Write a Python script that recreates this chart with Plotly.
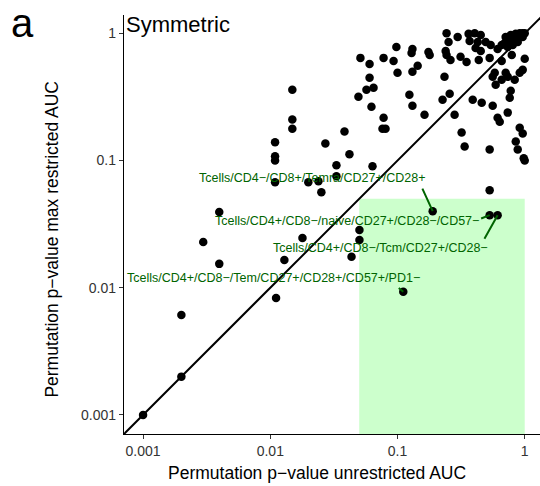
import math
import plotly.graph_objects as go

# ---- data: permutation p-values (unrestricted AUC, max restricted AUC) ----
p_unrestricted = [
    0.243, 0.297, 0.252, 0.362, 0.404, 0.451, 0.369, 0.427, 0.493, 0.54,
    0.411, 0.451, 0.612, 0.708, 0.776, 0.85, 0.913, 0.96, 1.0, 0.696,
    0.762, 0.819, 0.897, 0.964, 0.735, 0.805, 0.659, 0.881, 0.098, 0.131,
    0.129, 0.175, 0.179, 0.239, 0.243, 0.261, 0.313, 0.349, 0.435, 0.53,
    0.659, 0.791, 1.0, 0.0511, 0.0603, 0.0777, 0.0931, 0.1, 0.131, 0.144,
    0.234, 0.0603, 0.0149, 0.057, 0.0648, 0.0493, 0.0624, 0.124, 0.131, 0.163,
    0.226, 0.257, 0.281, 0.39, 0.459, 0.56, 0.56, 0.591, 0.659, 0.735,
    0.834, 0.913, 0.964, 0.581, 0.708, 0.776, 0.762, 0.612, 0.636, 0.735,
    0.913, 0.964, 0.85, 0.881, 0.982, 0.53, 0.319, 0.337, 0.53, 1.0,
    0.0777, 0.0762, 0.0805, 0.0149, 0.0149, 0.0383, 0.0109, 0.0109, 0.0109, 0.0271,
    0.0419, 0.0331, 0.0636, 0.0252, 0.0109, 0.0199, 0.0239, 0.0331, 0.00397, 0.0502,
    0.0502, 0.0179, 0.00297, 0.0129, 0.00397, 0.0435, 0.0111, 0.002, 0.002, 0.001,
]
p_max_restricted = [
    1.0, 0.935, 0.855, 0.99, 1.0, 0.97, 0.87, 0.855, 0.855, 0.81,
    0.767, 0.727, 0.753, 0.935, 0.97, 0.99, 1.0, 1.0, 1.0, 0.84,
    0.87, 0.887, 0.92, 0.935, 0.782, 0.81, 0.81, 0.855, 0.782, 0.753,
    0.701, 0.714, 0.676, 0.727, 0.676, 0.618, 0.653, 0.596, 0.618, 0.641,
    0.607, 0.676, 0.63, 0.641, 0.575, 0.641, 0.607, 0.489, 0.498, 0.555,
    0.455, 0.447, 0.36, 0.36, 0.373, 0.317, 0.265, 0.329, 0.27, 0.229,
    0.301, 0.335, 0.229, 0.301, 0.285, 0.27, 0.455, 0.394, 0.431, 0.455,
    0.431, 0.489, 0.516, 0.489, 0.489, 0.353, 0.311, 0.217, 0.202, 0.238,
    0.181, 0.163, 0.141, 0.122, 0.104, 0.122, 0.166, 0.129, 0.0583, 0.1,
    0.217, 0.178, 0.178, 0.21, 0.178, 0.169, 0.139, 0.108, 0.1, 0.136,
    0.112, 0.0916, 0.09, 0.0562, 0.0675, 0.0675, 0.0687, 0.0752, 0.0393, 0.0284,
    0.0237, 0.0246, 0.0229, 0.0165, 0.0154, 0.0175, 0.0083, 0.0061, 0.002, 0.001,
]

# labelled populations
label_names = [
    "Tcells/CD4\u2212/CD8+/Temra/CD27+/CD28+",
    "Tcells/CD4+/CD8\u2212/naive/CD27+/CD28\u2212/CD57\u2212",
    "Tcells/CD4+/CD8\u2212/Tcm/CD27+/CD28\u2212",
    "Tcells/CD4+/CD8\u2212/Tem/CD27+/CD28+/CD57+/PD1\u2212",
]
label_x = [0.189, 0.53, 0.612, 0.111]
label_y = [0.04, 0.0372, 0.0372, 0.0093]

tick_vals = [0.001, 0.01, 0.1, 1]
tick_text = ["0.001", "0.01", "0.1", "1"]

# ---- styling / layout (not data) ----
FONT = "Liberation Sans, Arial, sans-serif"
GREEN = "#006400"
label_shift = [(-121, 33), (-143, -6), (-117, -33), (-130, 14)]   # label centre offset (px)
segment_tail = [(-11, -24), (-10, 4), (-14, 25), (-6, -5)]          # segment start offset (px)

fig = go.Figure()

# highlighted region
fig.add_shape(type="rect", xref="x", yref="y", x0=0.05, x1=1, y0=1e-5, y1=0.05,
              fillcolor="#CCFFCC", line=dict(width=0), layer="below")

all_x = p_unrestricted + label_x
all_y = p_max_restricted + label_y
fig.add_trace(go.Scatter(x=all_x, y=all_y, mode="markers",
                         marker=dict(color="black", size=8.5, line=dict(width=0)),
                         hoverinfo="skip", showlegend=False))

# identity line
fig.add_trace(go.Scatter(x=[1e-4, 10], y=[1e-4, 10], mode="lines",
                         line=dict(color="black", width=2), hoverinfo="skip",
                         showlegend=False))

ann = []
for name, lx, ly, (sx, sy), (tx, ty) in zip(label_names, label_x, label_y,
                                              label_shift, segment_tail):
    ann.append(dict(x=math.log10(lx), y=math.log10(ly), xref="x", yref="y",
                    text="", showarrow=True, arrowhead=0, arrowwidth=2,
                    arrowcolor=GREEN, ax=tx, ay=ty, standoff=0))
    ann.append(dict(x=math.log10(lx), y=math.log10(ly), xref="x", yref="y",
                    text=name, showarrow=False, xshift=sx, yshift=sy,
                    xanchor="center", yanchor="middle",
                    font=dict(family=FONT, size=12.5, color=GREEN)))

ann.append(dict(text="Symmetric", xref="paper", yref="paper", x=0, y=0.978,
                xanchor="left", yanchor="middle", showarrow=False,
                font=dict(family=FONT, size=22, color="black")))
ann.append(dict(text="a", xref="paper", yref="paper", x=-0.276, y=0.981,
                xanchor="left", yanchor="middle", showarrow=False,
                font=dict(family=FONT, size=40, color="black")))
ann.append(dict(text="Permutation p\u2212value unrestricted AUC", xref="paper",
                yref="paper", x=0.464, y=-0.0924, xanchor="center",
                yanchor="middle", showarrow=False,
                font=dict(family=FONT, size=17.5, color="black")))
ann.append(dict(text="Permutation p\u2212value max restricted AUC", xref="paper",
                yref="paper", x=-0.174, y=0.4654, xanchor="center",
                yanchor="middle", showarrow=False, textangle=-90,
                font=dict(family=FONT, size=17.5, color="black")))

axis_common = dict(type="log", showgrid=False, zeroline=False, showline=True,
                   linecolor="black", linewidth=1.3, mirror=False,
                   ticks="outside", ticklen=4, tickwidth=1.2, tickcolor="#333333",
                   tickvals=tick_vals, ticktext=tick_text,
                   tickfont=dict(family=FONT, size=14, color="#333333"))

fig.update_layout(
    width=540, height=486,
    margin=dict(l=124, r=0, t=15, b=52),
    paper_bgcolor="white", plot_bgcolor="white",
    xaxis=dict(range=[-3.15, 0.12], **axis_common),
    yaxis=dict(range=[-3.15, 0.144], **axis_common),
    annotations=ann,
    showlegend=False,
    hovermode=False,
)

fig.write_html("out.html", config={"displayModeBar": False},
               post_script="document.body.style.margin='0';document.body.style.overflow='hidden';")
